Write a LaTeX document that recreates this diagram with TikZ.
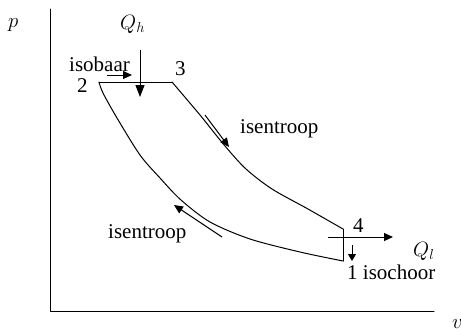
\documentclass[tikz,border=0pt]{standalone}
\usepackage{fontspec}
\setmainfont{Liberation Serif}
\usetikzlibrary{arrows.meta}
\tikzset{
  lbl/.style={inner sep=0pt, anchor=base west, font=\fontsize{21}{25}\selectfont},
  ln/.style={line width=1pt, line cap=round, line join=round},
  arr/.style={line width=1pt, -{Triangle[length=9pt,width=8pt]}},
}
\begin{document}
\begin{tikzpicture}[x=1pt,y=-1pt]
\useasboundingbox (0,0) rectangle (461,330);
% axes
\coordinate (ytop) at (50,9);
\coordinate (orig) at (50,311);
\coordinate (xend) at (434,311);
\draw[ln] (ytop) -- (orig) -- (xend);
% corners
\coordinate (P1) at (343,261);
\coordinate (P2) at (99,82);
\coordinate (P3) at (172,82);
\coordinate (P4) at (343,229);
% cycle
\draw[ln] (P2) -- (P3);
\draw[ln] plot[smooth, tension=0.5] coordinates {(P3) (200,115) (225,146) (246,169) (272,189) (308,209) (P4)};
\draw[ln] (P4) -- (P1);
\draw[ln] plot[smooth, tension=0.5] coordinates {(P2) (103,93) (117,118) (140,155) (160,178) (181,200) (210,222) (250,239) (300,252) (P1)};
% arrows
\coordinate (qh1) at (140,50);
\coordinate (qh2) at (140,97);
\draw[line width=1pt, -{Triangle[length=12pt,width=9pt]}] (qh1) -- (qh2);
\coordinate (ib1) at (107,75);
\coordinate (ib2) at (132,75);
\draw[arr] (ib1) -- (ib2);
\coordinate (ie1) at (205,115);
\coordinate (ie2) at (229,147);
\draw[arr] (ie1) -- (ie2);
\coordinate (ie3) at (222,237);
\coordinate (ie4) at (174,205);
\draw[arr] (ie3) -- (ie4);
\coordinate (ql1) at (328,237);
\coordinate (ql2) at (393,237);
\draw[arr] (ql1) -- (ql2);
\coordinate (ic1) at (352,245);
\coordinate (ic2) at (352,261);
\draw[line width=1pt, -{Triangle[length=7pt,width=8pt]}] (ic1) -- (ic2);
% labels
\node[lbl] (lp) at (8,27) {$p$};
\node[lbl] (lv) at (452,328) {$v$};
\node[lbl] (lqh) at (120,29) {$Q_h$};
\node[lbl] (lib) at (69,71.5) {isobaar};
\node[lbl] (l2) at (77,92) {2};
\node[lbl] (l3) at (175,75) {3};
\node[lbl] (lie1) at (240,133) {isentroop};
\node[lbl] (lie2) at (108,238) {isentroop};
\node[lbl] (l4) at (353,232) {4};
\node[lbl] (l1) at (347,279) {1 isochoor};
\node[lbl] (lql) at (413,256) {$Q_l$};
\end{tikzpicture}
\end{document}
